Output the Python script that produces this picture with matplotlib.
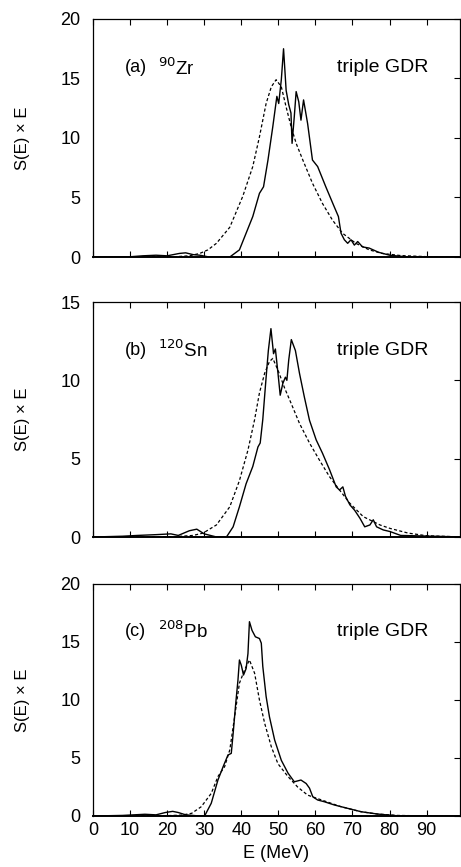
import matplotlib
matplotlib.use("Agg")
import matplotlib.pyplot as plt
import numpy as np

plt.rcParams['font.family'] = ['Liberation Sans', 'DejaVu Sans']

# ---- Panel (a) 90Zr ----
zr_solid_E = [0, 10, 13.4, 17, 20, 23.3, 25, 27, 28.8, 31, 35, 36.9, 39.5, 41.3, 43.1, 44.9, 46.0, 47.2, 48.5, 49.6, 50.1, 50.8, 51.4, 52.1, 52.8, 53.4, 53.7, 54.3, 54.8, 55.5, 56.1, 56.8, 57.9, 59.2, 60.6, 62.8, 65.1, 66.2, 66.9, 67.8, 68.7, 69.6, 70.5, 71.4, 72.7, 74.5, 77, 80, 85, 100]
zr_solid_S = [0, 0.02, 0.1, 0.15, 0.1, 0.3, 0.35, 0.2, 0.15, 0.02, 0, 0.0, 0.6, 2.0, 3.4, 5.35, 5.9, 8.15, 10.95, 13.5, 12.9, 14.9, 17.5, 14.0, 12.8, 12.1, 9.55, 11.8, 13.9, 13.05, 11.5, 13.2, 11.2, 8.15, 7.6, 5.9, 4.2, 3.4, 2.0, 1.45, 1.15, 1.45, 1.0, 1.3, 0.85, 0.75, 0.4, 0.15, 0.0, 0]
zr_dash_E = [0, 22, 26, 28.8, 31, 33.3, 36.9, 40.4, 43.1, 44.9, 46.7, 48.1, 49.4, 50.8, 52.1, 53.4, 54.8, 56.6, 59.2, 61.9, 64.6, 67.3, 70.9, 74.5, 78, 83, 90, 100]
zr_dash_S = [0, 0.02, 0.1, 0.3, 0.6, 1.15, 2.5, 5.1, 7.6, 10.1, 12.9, 14.3, 14.9, 14.3, 12.6, 11.0, 9.55, 8.15, 6.2, 4.5, 3.1, 2.0, 1.15, 0.6, 0.3, 0.12, 0.03, 0]

# ---- Panel (b) 120Sn ----
sn_solid_E = [0, 8, 12, 17, 21, 23, 26, 28, 30, 33, 36.0, 37.8, 39.5, 41.3, 43.1, 44.5, 45.1, 45.8, 46.7, 47.3, 48.0, 48.7, 49.2, 49.9, 50.5, 51.2, 51.9, 52.3, 52.8, 53.5, 54.6, 55.7, 57.0, 58.4, 60.2, 61.9, 63.8, 65.6, 66.5, 67.4, 68.1, 69.3, 70.6, 72.0, 73.3, 74.7, 75.6, 76.5, 78.3, 80.1, 83, 100]
sn_solid_S = [0, 0.05, 0.1, 0.15, 0.2, 0.1, 0.4, 0.5, 0.2, 0.02, 0.0, 0.65, 1.93, 3.4, 4.5, 5.75, 6.0, 7.5, 10.2, 11.9, 13.3, 11.7, 12.0, 10.45, 9.05, 9.8, 10.2, 10.0, 11.3, 12.6, 11.9, 10.45, 8.95, 7.45, 6.2, 5.35, 4.3, 3.2, 3.0, 3.2, 2.6, 2.05, 1.7, 1.2, 0.65, 0.77, 1.1, 0.65, 0.45, 0.35, 0.1, 0]
sn_dash_E = [0, 22, 27, 29.7, 33.3, 36.9, 39.5, 41.8, 43.6, 44.9, 46.3, 47.6, 48.5, 49.9, 51.7, 53.5, 55.7, 58.4, 61.1, 63.8, 66.5, 69.3, 72.9, 77.4, 80.1, 85, 90, 100]
sn_dash_S = [0, 0.02, 0.1, 0.25, 0.77, 1.93, 3.6, 5.55, 7.5, 9.2, 10.45, 11.2, 11.4, 10.65, 9.5, 8.5, 7.25, 6.0, 4.9, 3.85, 3.0, 2.15, 1.3, 0.77, 0.55, 0.25, 0.08, 0]

# ---- Panel (c) 208Pb ----
pb_solid_E = [0, 8, 14, 17, 19.5, 21.5, 23, 25, 28, 30.1, 31.9, 33.7, 35.1, 36.4, 37.3, 37.8, 38.5, 39.1, 39.5, 40.0, 40.6, 41.3, 41.8, 42.2, 42.9, 43.8, 44.9, 45.4, 45.8, 46.7, 47.6, 49.0, 50.8, 52.6, 54.3, 56.1, 57.5, 58.4, 59.3, 60.6, 62.4, 65.1, 68.7, 72.3, 76.7, 82, 100]
pb_solid_S = [0, 0.05, 0.15, 0.1, 0.3, 0.4, 0.3, 0.1, 0.02, 0.0, 1.1, 3.1, 4.25, 5.25, 5.4, 7.1, 9.7, 11.7, 13.45, 13.0, 12.15, 12.7, 14.0, 16.75, 16.0, 15.45, 15.3, 14.9, 12.9, 10.3, 8.55, 6.55, 4.8, 3.7, 2.95, 3.1, 2.8, 2.4, 1.65, 1.38, 1.23, 0.95, 0.66, 0.37, 0.17, 0.02, 0]
pb_dash_E = [0, 20, 24, 26.6, 29.2, 31.9, 33.7, 35.5, 36.9, 38.2, 39.5, 40.9, 42.2, 43.6, 44.9, 46.3, 48.1, 49.9, 52.6, 55.2, 57.9, 61.5, 66.9, 72.3, 76.7, 82, 90, 100]
pb_dash_S = [0, 0.03, 0.08, 0.23, 0.8, 1.95, 3.4, 4.25, 5.7, 8.55, 11.45, 12.6, 13.45, 12.3, 10.0, 8.0, 5.97, 4.5, 3.4, 2.5, 1.8, 1.4, 0.8, 0.37, 0.17, 0.05, 0.01, 0]

panels = [
    ("(a)", "90", "Zr", 20, [0, 5, 10, 15, 20], zr_solid_E, zr_solid_S, zr_dash_E, zr_dash_S),
    ("(b)", "120", "Sn", 15, [0, 5, 10, 15], sn_solid_E, sn_solid_S, sn_dash_E, sn_dash_S),
    ("(c)", "208", "Pb", 20, [0, 5, 10, 15, 20], pb_solid_E, pb_solid_S, pb_dash_E, pb_dash_S),
]
x_ticks = [0, 10, 20, 30, 40, 50, 60, 70, 80, 90]

W, H = 461, 867
fig = plt.figure(figsize=(W / 100, H / 100), dpi=100)
boxes = [(19, 257), (302, 537), (584, 816)]
left_px, right_px = 93, 460

for i, ((lab, mass, elem, ymax, yt, sE, sS, dE, dS), (top, bot)) in enumerate(zip(panels, boxes)):
    ax = fig.add_axes([left_px / W, 1 - bot / H, (right_px - left_px) / W, (bot - top) / H])
    ax.plot(dE, dS, color='black', lw=0.9, dashes=(2.5, 1.8))
    ax.plot(sE, sS, color='black', lw=1.0)
    ax.set_xlim(0, 99)
    ax.set_ylim(0, ymax)
    ax.set_yticks(yt)
    ax.set_xticks(x_ticks)
    ax.tick_params(axis='y', direction='in', left=False, right=True, length=4,
                   labelsize=13, pad=9)
    ax.tick_params(axis='x', direction='in', top=True, bottom=True, length=4,
                   labelsize=13, pad=4, labelbottom=(i == 2))
    for s in ax.spines.values():
        s.set_linewidth(0.9)
    ax.spines['bottom'].set_linewidth(1.4)
    ax.set_ylabel("S(E) × E", fontsize=12, labelpad=22)
    ax.text(8.5, 0.795 * ymax, lab, fontsize=13, ha='left', va='center')
    ax.text(17.5, 0.795 * ymax, r"$^{\mathrm{%s}}$%s" % (mass, elem), fontsize=13.5,
            ha='left', va='center')
    ax.text(78.2, 0.795 * ymax, "triple GDR", fontsize=14, ha='center', va='center')
    if i == 2:
        ax.set_xlabel("E (MeV)", fontsize=13, labelpad=5)

fig.savefig("out.png", dpi=100)
